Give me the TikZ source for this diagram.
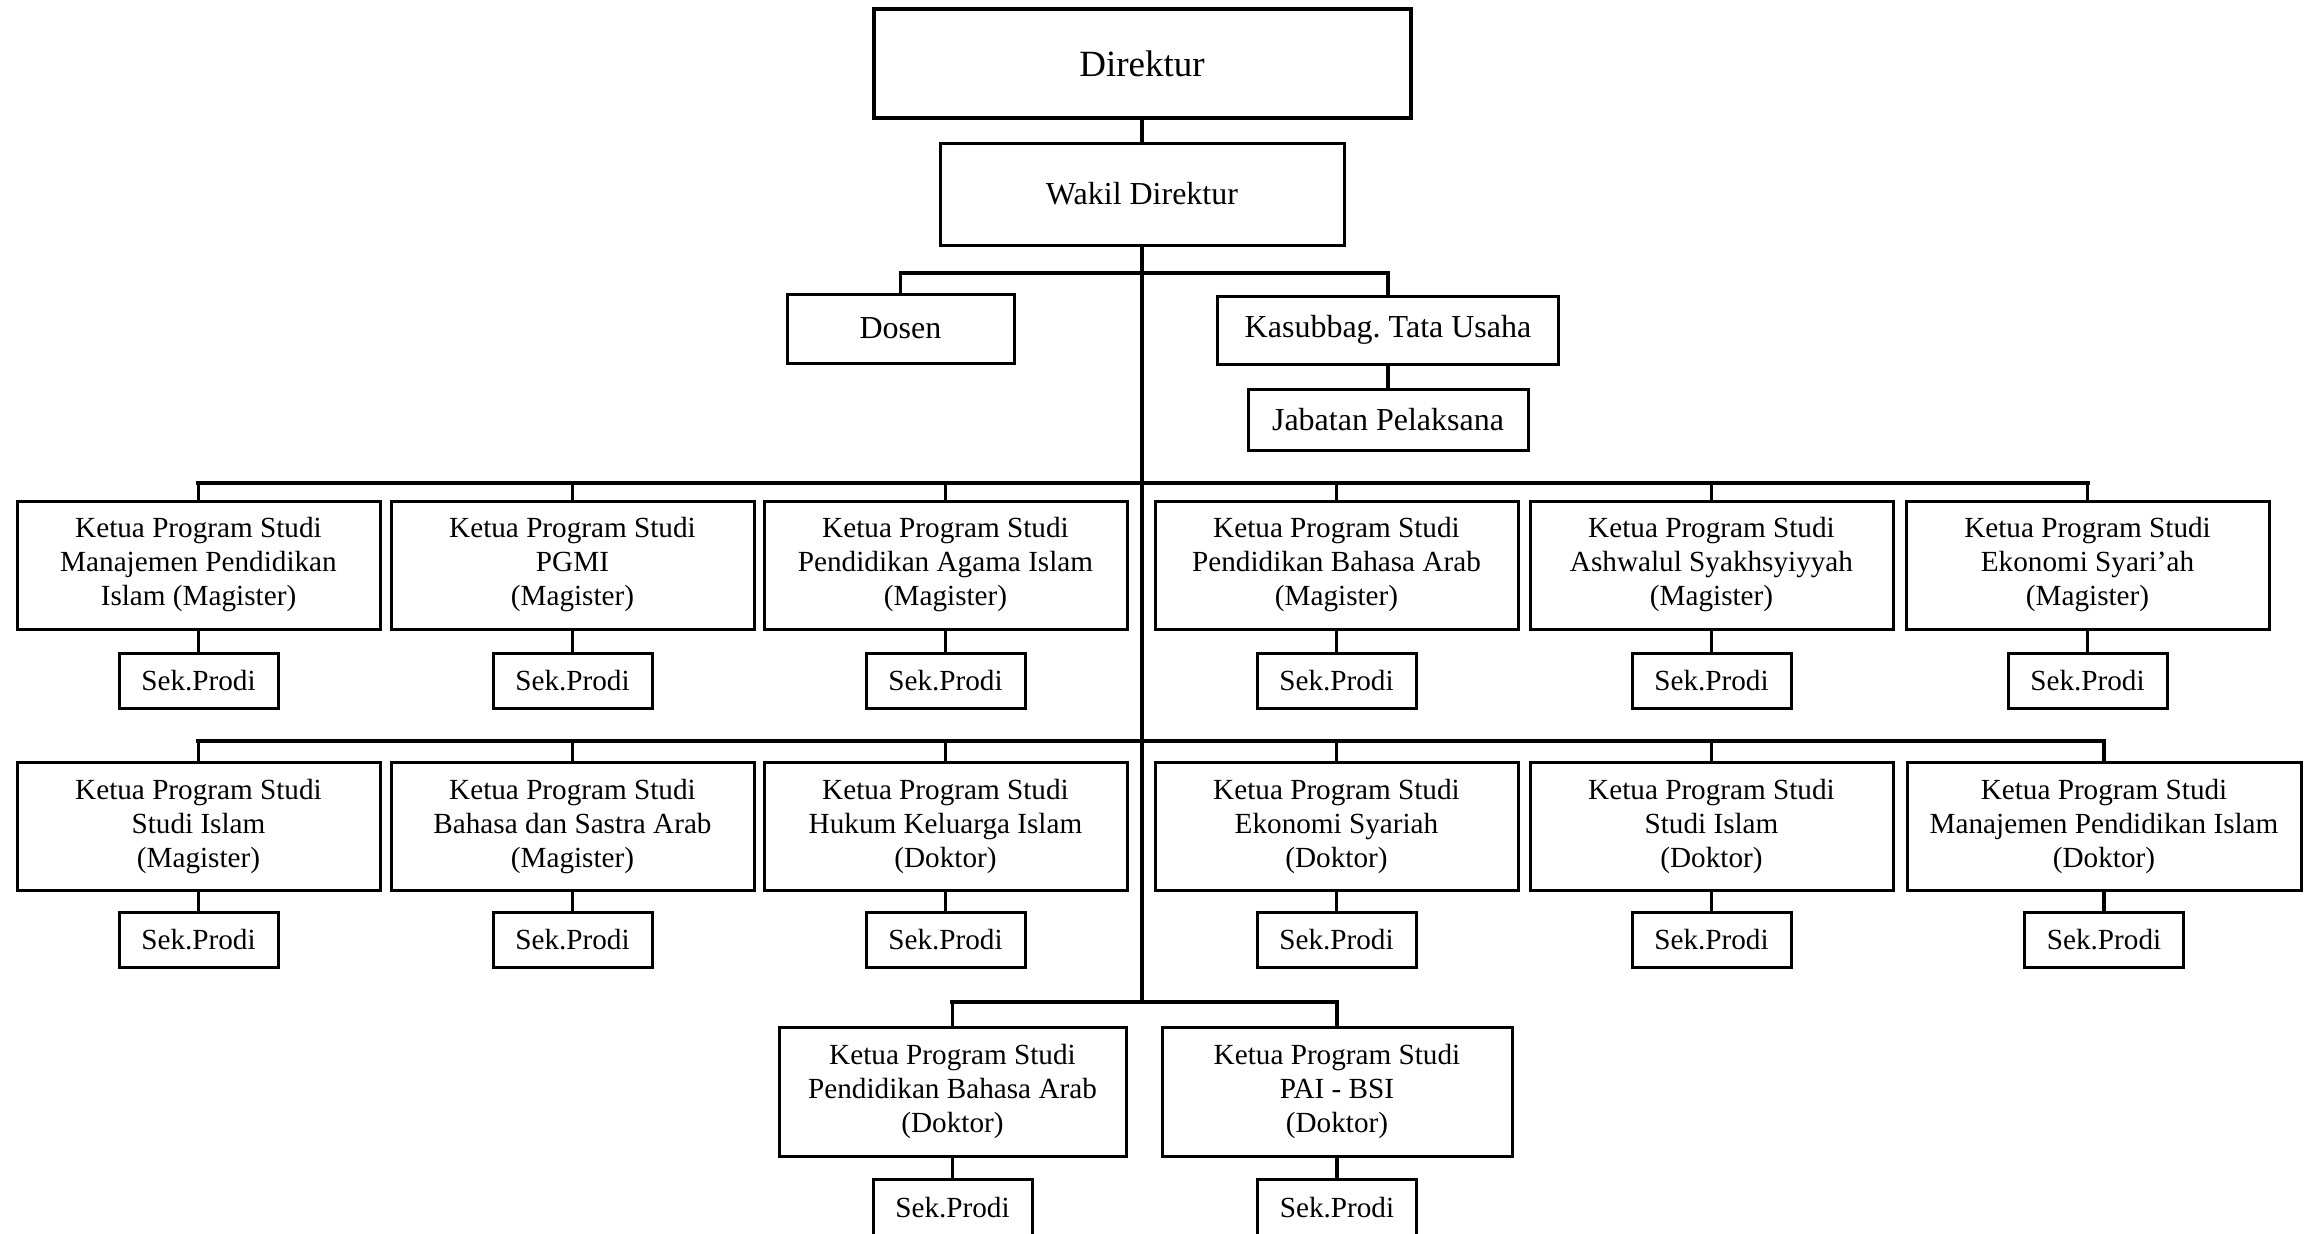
\documentclass[tikz,border=0pt]{standalone}
\usepackage{fontspec}
\setmainfont{Liberation Serif}
\frenchspacing
\begin{document}
\begin{tikzpicture}[x=0.5pt,y=-0.5pt,
  base/.style={draw, inner sep=0pt, align=center, line width=1.5pt},
  sz/.style 2 args={minimum width=#1*0.5pt, minimum height=#2*0.5pt},
  topbox/.style={base, line width=2pt, font=\fontsize{18.5}{22}\selectfont},
  midbox/.style={base, font=\fontsize{16}{19}\selectfont},
  kbox/.style={base, font=\fontsize{14.6}{17}\selectfont, sz={363}{128}},
  sbox/.style={base, font=\fontsize{14.6}{17}\selectfont, sz={159}{55}},
  ln/.style={line width=1.9pt, line cap=rect},
  bus/.style={line width=2.4pt, line cap=rect}]
\useasboundingbox (0,0) rectangle (2312,1233);
% top
\node[topbox, sz={537}{109}] (dir) at (1142,63.5) {Direktur};
\node[midbox, sz={404}{102}] (wak) at (1142,194) {Wakil Direktur};
\node[midbox, sz={227}{69}] (dos) at (900.5,328.5) {Dosen};
\node[midbox, sz={341}{68}] (kas) at (1388,330) {Kasubbag. Tata Usaha};
\node[midbox, sz={280}{61}] (jab) at (1388,419.5) {Jabatan Pelaksana};
\coordinate (m0) at (1142,273);
\coordinate (m1) at (1142,483);
\coordinate (m2) at (1142,741);
\coordinate (m3) at (1142,1002);
% row 1
\node[kbox] (k11) at (198.5,565) {Ketua Program Studi\\Manajemen Pendidikan\\Islam (Magister)};
\node[kbox] (k12) at (572.5,565) {Ketua Program Studi\\PGMI\\(Magister)};
\node[kbox] (k13) at (945.5,565) {Ketua Program Studi\\Pendidikan Agama Islam\\(Magister)};
\node[kbox] (k14) at (1336.5,565) {Ketua Program Studi\\Pendidikan Bahasa Arab\\(Magister)};
\node[kbox] (k15) at (1711.5,565) {Ketua Program Studi\\Ashwalul Syakhsyiyyah\\(Magister)};
\node[kbox] (k16) at (2087.5,565) {Ketua Program Studi\\Ekonomi Syari’ah\\(Magister)};
\foreach \i/\x in {1/198.5,2/572.5,3/945.5,4/1336.5,5/1711.5,6/2087.5}
  \node[sbox] (s1\i) at (\x,680.5) {Sek.Prodi};
% row 2
\node[kbox] (k21) at (198.5,826.5) {Ketua Program Studi\\Studi Islam\\(Magister)};
\node[kbox] (k22) at (572.5,826.5) {Ketua Program Studi\\Bahasa dan Sastra Arab\\(Magister)};
\node[kbox] (k23) at (945.5,826.5) {Ketua Program Studi\\Hukum Keluarga Islam\\(Doktor)};
\node[kbox] (k24) at (1336.5,826.5) {Ketua Program Studi\\Ekonomi Syariah\\(Doktor)};
\node[kbox] (k25) at (1711.5,826.5) {Ketua Program Studi\\Studi Islam\\(Doktor)};
\node[kbox, sz={394}{128}] (k26) at (2104,826.5) {Ketua Program Studi\\Manajemen Pendidikan Islam\\(Doktor)};
\foreach \i/\x in {1/198.5,2/572.5,3/945.5,4/1336.5,5/1711.5,6/2104}
  \node[sbox] (s2\i) at (\x,940) {Sek.Prodi};
% row 3
\node[kbox, sz={347}{129}] (k31) at (952.5,1091.5) {Ketua Program Studi\\Pendidikan Bahasa Arab\\(Doktor)};
\node[kbox, sz={350}{129}] (k32) at (1337,1091.5) {Ketua Program Studi\\PAI - BSI\\(Doktor)};
\node[sbox, sz={159}{56}] (s31) at (952.5,1207.5) {Sek.Prodi};
\node[sbox, sz={159}{56}] (s32) at (1337,1207.5) {Sek.Prodi};
% connectors
\draw[ln] (dir.south) -- (wak.north);
\draw[ln] (wak.south) -- (m3);
\draw[ln] (dos.north) -- (dos.north |- m0) -- (kas.north |- m0) -- (kas.north);
\draw[ln] (kas.south) -- (jab.north);
\draw[bus] (k11.north |- m1) -- (k16.north |- m1);
\draw[bus] (k21.north |- m2) -- (k26.north |- m2);
\draw[bus] (k31.north |- m3) -- (k32.north |- m3);
\foreach \r in {1,2}{
  \foreach \i in {1,...,6}{
    \draw[ln] (k\r\i.north |- m\r) -- (k\r\i.north);
    \draw[ln] (k\r\i.south) -- (s\r\i.north);
  }
}
\foreach \i in {1,2}{
  \draw[ln] (k3\i.north |- m3) -- (k3\i.north);
  \draw[ln] (k3\i.south) -- (s3\i.north);
}
\end{tikzpicture}
\end{document}
